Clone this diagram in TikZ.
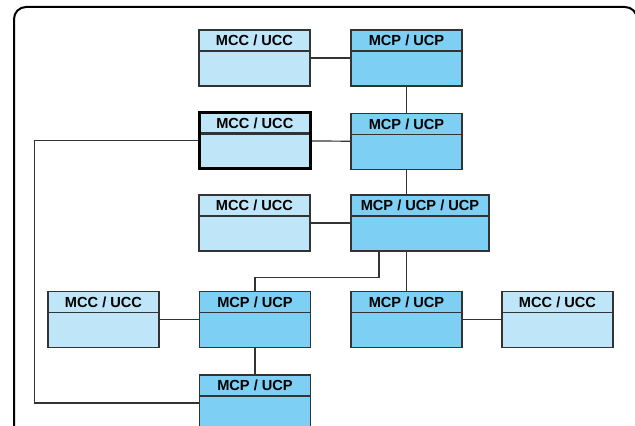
\documentclass[tikz,border=0pt]{standalone}
\usepackage{fontspec}
\setmainfont{Liberation Sans}
\definecolor{mccfill}{HTML}{BEE6F8}
\definecolor{mcpfill}{HTML}{7DCFF3}
\definecolor{edge}{HTML}{333333}
\tikzset{
  divider/.store in=\dividerwidth, divider=0.6pt,
  unit/.style={rectangle, draw=edge, line width=0.6pt, inner xsep=0pt, inner ysep=0pt,
    minimum width=55.5pt, text height=7.9pt, text depth=20.1pt,
    font=\fontsize{7.3}{8}\selectfont\bfseries,
    path picture={\draw[edge, line width=\dividerwidth]
      ([yshift=-10.5pt]path picture bounding box.north west) --
      ([yshift=-10.5pt]path picture bounding box.north east);}},
  mcc/.style={unit, fill=mccfill},
  mcp/.style={unit, fill=mcpfill},
  focus/.style={line width=1.8pt, draw=black, divider=1.6pt},
  link/.style={draw=edge, line width=0.6pt}
}
\begin{document}
\begin{tikzpicture}[x=0.5pt, y=-0.5pt]
    \useasboundingbox (0,0) rectangle (635,426);
    \clip (0,0) rectangle (635,426);
    \draw[line width=1pt, rounded corners=6pt] (14,7) rectangle (637,445);

    % Nodes
    \node [mcc] (mccA) at (254.5,58) {MCC / UCC};
    \node [mcp] (mcpA) at (406.5,58) {MCP / UCP};
    \node [mcc, focus] (mccB) at (254.8,140.7) {MCC / UCC};
    \node [mcp] (mcpB) at (406.5,141.5) {MCP / UCP};
    \node [mcc] (mccC) at (254.5,223) {MCC / UCC};
    \node [mcp, minimum width=69pt] (mcpC) at (420,223) {MCP / UCP / UCP};
    \node [mcc] (mccD) at (103.5,319.5) {MCC / UCC};
    \node [mcp] (mcpD) at (255,319.5) {MCP / UCP};
    \node [mcp] (mcpE) at (406.5,319.5) {MCP / UCP};
    \node [mcc] (mccE) at (557.5,319.5) {MCC / UCC};
    \node [mcp] (mcpF) at (255,403) {MCP / UCP};

    % Path
    \draw [link] (mccA) -- (mcpA);
    \draw [link] (mcpA) -- (mcpB);
    \draw [link] (mccB) -- (mcpB);
    \draw [link] (mcpB.south) -- (mcpB.south |- mcpC.north);
    \draw [link] (mccC.east) -- (mccC.east -| mcpC.west);
    \draw [link] (mcpE.north |- mcpC.south) -- (mcpE.north);
    \draw [link] ([xshift=-20.5pt]mcpC.south) |- ([yshift=6.5pt]mcpD.north) -- (mcpD.north);
    \draw [link] (mccD) -- (mcpD);
    \draw [link] (mcpE) -- (mccE);
    \draw [link] (mcpD) -- (mcpF);
    \draw [link] (mccB.west) -- ++(-163,0) |- (mcpF.west);
\end{tikzpicture}
\end{document}
